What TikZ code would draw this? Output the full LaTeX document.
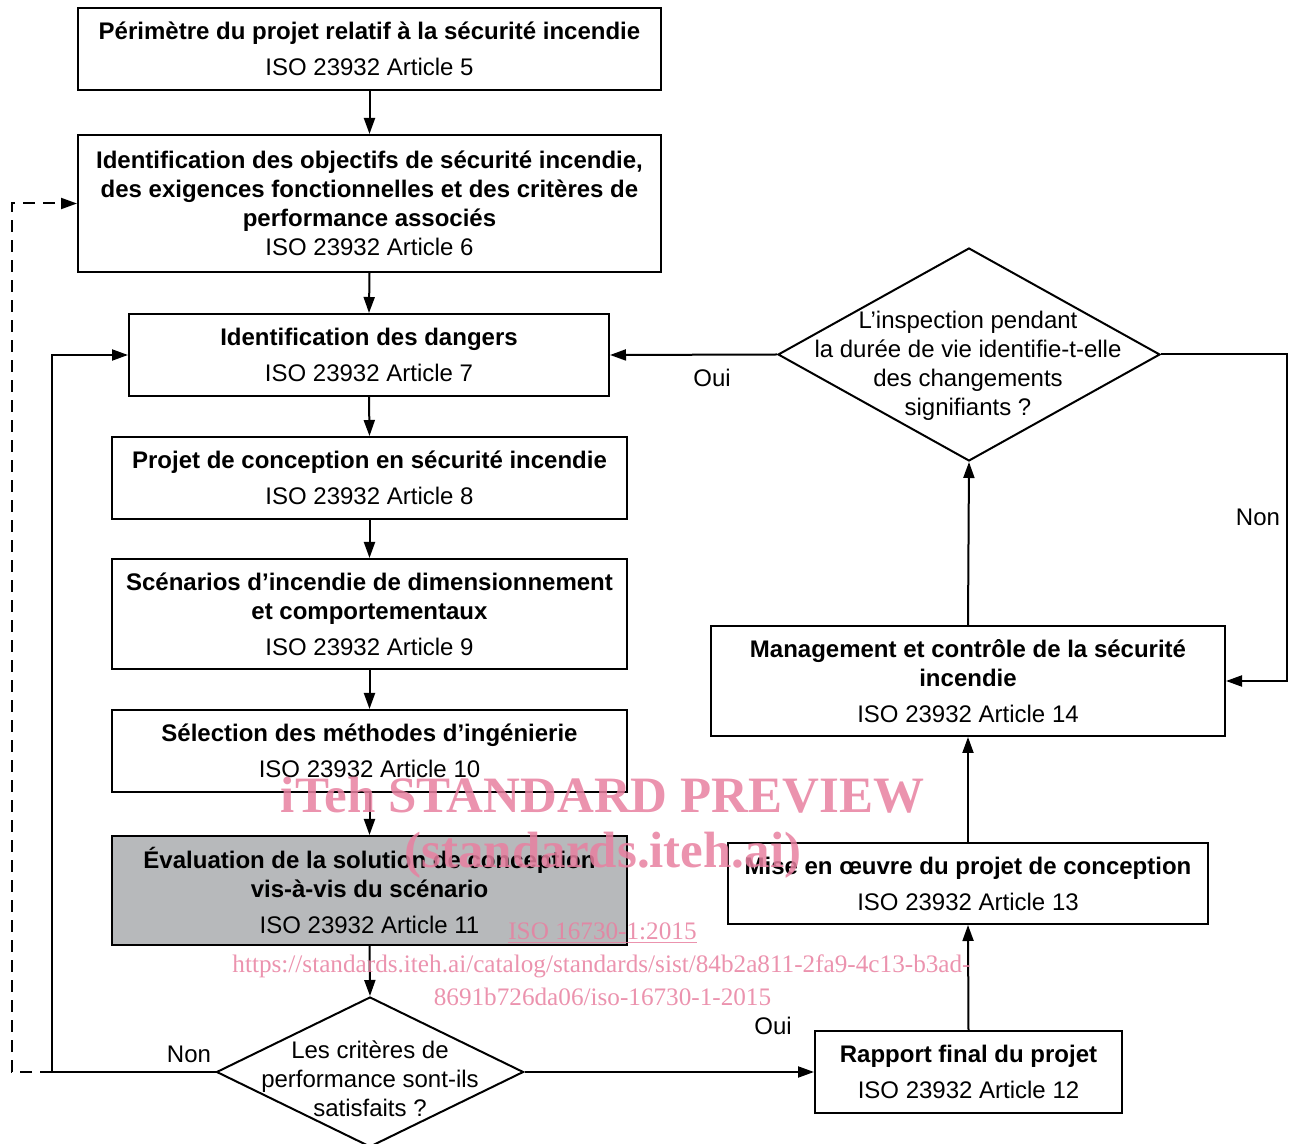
\documentclass[tikz,border=0pt]{standalone}
\usepackage{fontspec}
\setmainfont{Liberation Sans}
\newfontfamily\wmfont{Liberation Serif}
\usetikzlibrary{shapes.geometric , arrows.meta}

\definecolor{boxgray}{RGB}{183,185,187}
\definecolor{wmpink}{RGB}{232,128,160}

\tikzset{
    box/.style = {draw , line width = 1pt , align = center , inner sep = 0pt , font = \fontsize{12}{14.5}\selectfont},
    decision/.style = {draw , diamond , line width = 1pt , inner sep = 0pt},
    lbl/.style = {align = center , font = \fontsize{12}{14.5}\selectfont},
    arr/.style = {line width = 1pt , -{Triangle[length = 8pt , width = 5.5pt]}},
    wm/.style = {text = wmpink , text opacity = 0.85},
}

\begin{document}
\begin{tikzpicture}[x = 0.5pt , y = -0.5pt]
    \useasboundingbox (0,0) rectangle (1298,1144);
    % Colonne de gauche
    \node[box , minimum width = 291.5pt , minimum height = 41pt] (b5) at (369.5,49)
        {\textbf{Périmètre du projet relatif à la sécurité incendie}\\[3.5pt] ISO 23932 Article 5};
    \node[box , minimum width = 291.5pt , minimum height = 68.5pt] (b6) at (369.5,203.5)
        {\textbf{Identification des objectifs de sécurité incendie,}\\ \textbf{des exigences fonctionnelles et des critères de}\\ \textbf{performance associés}\\ ISO 23932 Article 6};
    \node[box , minimum width = 240pt , minimum height = 41pt] (b7) at (369,355)
        {\textbf{Identification des dangers}\\[3.5pt] ISO 23932 Article 7};
    \node[box , minimum width = 257.5pt , minimum height = 41pt] (b8) at (369.5,478)
        {\textbf{Projet de conception en sécurité incendie}\\[3.5pt] ISO 23932 Article 8};
    \node[box , minimum width = 257.5pt , minimum height = 55pt] (b9) at (369.5,614)
        {\textbf{Scénarios d’incendie de dimensionnement}\\ \textbf{et comportementaux}\\[3.5pt] ISO 23932 Article 9};
    \node[box , minimum width = 257.5pt , minimum height = 41pt] (b10) at (369.5,751)
        {\textbf{Sélection des méthodes d’ingénierie}\\[3.5pt] ISO 23932 Article 10};
    \node[box , fill = boxgray , minimum width = 257.5pt , minimum height = 54.5pt] (b11) at (369.5,890.5)
        {\textbf{Évaluation de la solution de conception}\\ \textbf{vis-à-vis du scénario}\\[3.5pt] ISO 23932 Article 11};
    \node[decision , minimum width = 153.5pt , minimum height = 75pt] (crit) at (370,1072) {};
    \node[lbl] (crittext) at (370,1079) {Les critères de\\ performance sont-ils\\ satisfaits ?};

    % Colonne de droite
    \node[box , minimum width = 153.5pt , minimum height = 41pt] (b12) at (968.5,1072)
        {\textbf{Rapport final du projet}\\[3.5pt] ISO 23932 Article 12};
    \node[box , minimum width = 240pt , minimum height = 40.5pt] (b13) at (968,883.5)
        {\textbf{Mise en œuvre du projet de conception}\\[3.5pt] ISO 23932 Article 13};
    \node[box , minimum width = 257pt , minimum height = 55pt] (b14) at (968,681)
        {\textbf{Management et contrôle de la sécurité}\\ \textbf{incendie}\\[3.5pt] ISO 23932 Article 14};
    \node[decision , minimum width = 191pt , minimum height = 106.5pt] (insp) at (969,354.5) {};
    \node[lbl] (insptext) at (968,366) {L’inspection pendant\\ la durée de vie identifie-t-elle\\ des changements\\ signifiants ?};

    % Flèches
    \draw[arr] (b5.south) -- (b6.north);
    \draw[arr] (b6.south) -- (b7.north);
    \draw[arr] (b7.south) -- (b8.north);
    \draw[arr] (b8.south) -- (b9.north);
    \draw[arr] (b9.south) -- (b10.north);
    \draw[arr] (b10.south) -- (b11.north);
    \draw[arr] (b11.south) -- (crit.north);
    \draw[arr] (crit.east) -- (b12.west);
    \draw[arr] (b12.north) -- (b13.south);
    \draw[arr] (b13.north) -- (b14.south);
    \draw[arr] (b14.north) -- (insp.south);
    \draw[arr] (insp.west) -- (b7.east);
    \coordinate (nonleft) at (52,1072);
    \coordinate (dashleft) at (12,1072);
    \coordinate (nonright) at (1287,354.5);
    \draw[arr] (crit.west) -- (nonleft) |- (b7.west);
    \draw[arr , dash pattern = on 6pt off 4pt] (nonleft) -- (dashleft) |- (b6.west);
    \draw[arr] (insp.east) -- (nonright) |- (b14.east);

    % Étiquettes
    \node[lbl] (ouiA) at (773,1026) {Oui};
    \node[lbl] (nonA) at (189,1054) {Non};
    \node[lbl] (ouiB) at (712,378) {Oui};
    \node[lbl] (nonB) at (1258,517) {Non};

    % Filigrane
    \node[wm , font = \wmfont\bfseries\fontsize{25.5}{30}\selectfont] (wmA) at (602.5,795) {iTeh STANDARD PREVIEW};
    \node[wm , font = \wmfont\bfseries\fontsize{25.5}{30}\selectfont] (wmB) at (603,855) {(standards.iteh.ai)};
    \node[wm , font = \wmfont\fontsize{12.6}{15}\selectfont] (wmC) at (602.5,933) {\underline{ISO 16730-1:2015}};
    \node[wm , font = \wmfont\fontsize{12.6}{15}\selectfont] (wmD) at (601.5,966) {https://standards.iteh.ai/catalog/standards/sist/84b2a811-2fa9-4c13-b3ad-};
    \node[wm , font = \wmfont\fontsize{12.6}{15}\selectfont] (wmE) at (602.5,997) {8691b726da06/iso-16730-1-2015};
\end{tikzpicture}
\end{document}
